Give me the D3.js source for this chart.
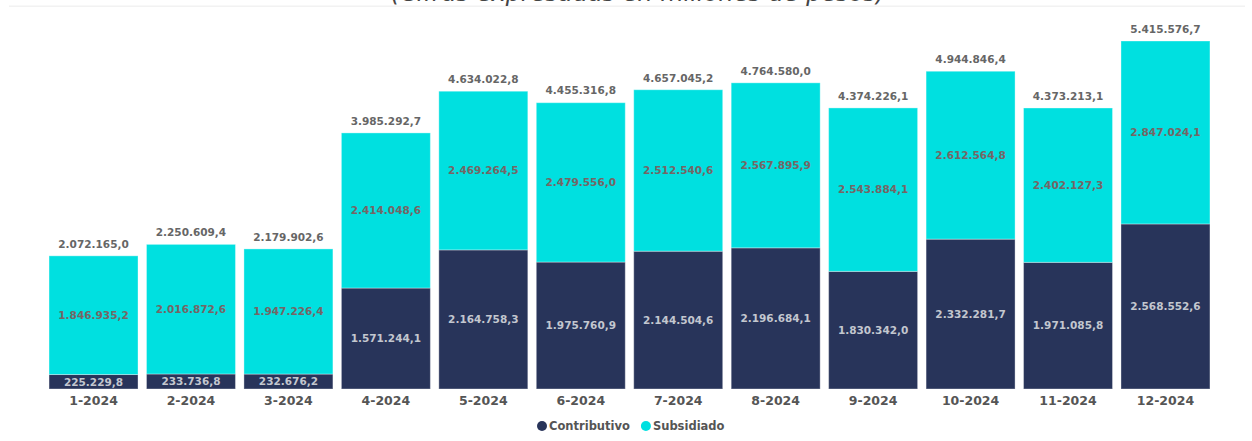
<!DOCTYPE html>
<html><head><meta charset="utf-8">
<script src="https://cdn.jsdelivr.net/npm/d3@7"></script>
<style>html,body{margin:0;padding:0;background:#fff;overflow:hidden}</style>
</head><body><svg id="c" width="1252" height="441"></svg>
<script>
const months = ["1-2024","2-2024","3-2024","4-2024","5-2024","6-2024","7-2024","8-2024","9-2024","10-2024","11-2024","12-2024"];
const contributivo = [225229.8,233736.8,232676.2,1571244.1,2164758.3,1975760.9,2144504.6,2196684.1,1830342.0,2332281.7,1971085.8,2568552.6];
const subsidiado = [1846935.2,2016872.6,1947226.4,2414048.6,2469264.5,2479556.0,2512540.6,2567895.9,2543884.1,2612564.8,2402127.3,2847024.1];
const totals = [2072165.0,2250609.4,2179902.6,3985292.7,4634022.8,4455316.8,4657045.2,4764580.0,4374226.1,4944846.4,4373213.1,5415576.7];
const seriesNames = ["Contributivo","Subsidiado"];
const colors = ["#28345a","#00e0e0"];
const title = "(Cifras expresadas en millones de pesos)";

const svg = d3.select("#c");
const fmt = d3.formatLocale({decimal:",",thousands:".",grouping:[3],currency:["$",""]}).format(",.1f");
const FONT = "'DejaVu Sans', Verdana, sans-serif";

svg.append("rect").attr("x",9).attr("y",5.5).attr("width",1236).attr("height",1.5).attr("fill","#f2f2f2");
svg.append("text").attr("x",638).attr("y",1).attr("text-anchor","middle")
  .attr("font-family",FONT).attr("font-style","italic").attr("font-size",24).attr("fill","#444").text(title);

const x = d3.scaleBand().domain(months).range([44.8,1214.2]).paddingInner(0.087).paddingOuter(0.0435);
const y = d3.scaleLinear().domain([0, d3.max(totals)]).range([389,41]);

const rows = months.map((m,i)=>({m, c:contributivo[i], s:subsidiado[i], t:totals[i]}));
const stack = d3.stack().keys(["c","s"])(rows);

const g = svg.append("g");
stack.forEach((layer,k)=>{
  g.selectAll(null).data(layer).enter().append("rect")
    .attr("x",d=>x(d.data.m)).attr("width",x.bandwidth())
    .attr("y",d=>y(d[1])).attr("height",d=>y(d[0])-y(d[1]))
    .attr("fill",colors[k]).attr("stroke","#fff").attr("stroke-opacity",0.35).attr("stroke-width",1);
  g.selectAll(null).data(layer).enter().append("text")
    .attr("x",d=>x(d.data.m)+x.bandwidth()/2).attr("y",d=>(y(d[0])+y(d[1]))/2)
    .attr("dy","0.36em").attr("text-anchor","middle")
    .attr("font-family",FONT).attr("font-weight","bold").attr("font-size",10.5)
    .attr("fill",k===0?"#c3c7cf":"#766565")
    .text(d=>fmt(d[1]-d[0]));
});
g.selectAll(null).data(rows).enter().append("text")
  .attr("x",d=>x(d.m)+x.bandwidth()/2).attr("y",d=>y(d.t)-12).attr("dy","0.36em")
  .attr("text-anchor","middle").attr("font-family",FONT).attr("font-weight","bold").attr("font-size",10.5)
  .attr("fill","#666").text(d=>fmt(d.t));

const xAxis = svg.append("g").attr("transform","translate(0,389)").call(d3.axisBottom(x).tickSize(0).tickPadding(7));
xAxis.select(".domain").remove();
xAxis.selectAll("text").attr("font-family",FONT).attr("font-weight","bold").attr("font-size",12.5).attr("fill","#555");

const leg = svg.append("g").attr("font-family",FONT).attr("font-weight","bold").attr("font-size",11.5);
let lx = 537;
seriesNames.forEach((n,i)=>{
  leg.append("circle").attr("cx",lx+5).attr("cy",426).attr("r",5).attr("fill",colors[i]);
  const t = leg.append("text").attr("x",lx+12).attr("y",426).attr("dy","0.36em").attr("fill","#555").text(n);
  lx += 12 + t.node().getComputedTextLength() + 11;
});
</script></body></html>
